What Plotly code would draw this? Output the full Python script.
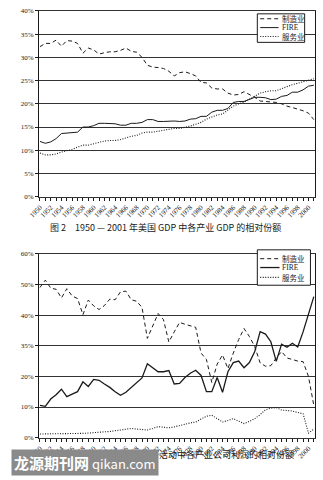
import plotly.graph_objects as go

# Years covered by both panels
years = list(range(1950, 2002))
year_labels = [str(y) for y in range(1950, 2001, 2)]

# Relative shares of GDP by industry (%)
gdp_manufacturing = [
    32.3, 33.0, 33.0, 33.7, 32.4, 33.6, 33.5, 33.0, 30.9, 32.0,
    31.6, 30.7, 31.0, 31.2, 31.2, 31.5, 32.0, 31.3, 31.1, 30.0,
    28.3, 27.9, 27.8, 27.6, 27.0, 26.0, 26.7, 26.9, 26.5, 26.0,
    24.6, 24.5, 23.4, 23.2, 23.2, 22.3, 21.9, 22.0, 22.6, 22.0,
    21.4, 20.6, 20.5, 20.3, 20.3, 20.0, 19.5, 19.2, 18.9, 18.5,
    18.0, 16.6,
]
gdp_fire = [
    11.9, 11.5, 11.8, 12.5, 13.6, 13.7, 13.7, 13.9, 15.0, 15.0,
    15.3, 15.8, 15.8, 15.8, 15.7, 15.4, 15.4, 15.8, 15.8, 16.0,
    16.6, 16.6, 16.2, 16.2, 16.3, 16.3, 16.2, 16.3, 16.7, 16.8,
    17.3, 17.3, 18.2, 18.6, 18.6, 19.0, 20.3, 20.5, 20.5, 21.0,
    21.4, 21.4, 21.3, 20.9, 21.0, 21.6, 21.8, 22.5, 22.5, 23.0,
    23.8, 24.0,
]
gdp_services = [
    9.4, 9.0, 9.0, 9.2, 9.6, 9.9, 10.2, 10.7, 11.1, 11.1,
    11.4, 11.8, 12.0, 12.1, 12.1, 12.3, 12.7, 13.0, 13.2, 13.7,
    13.9, 13.9, 14.1, 14.3, 14.5, 14.7, 14.7, 14.9, 15.2, 15.6,
    16.0, 16.7, 17.1, 17.6, 17.8, 18.6, 19.5, 20.0, 20.4, 21.0,
    21.7, 22.3, 22.6, 22.8, 22.8, 23.3, 23.7, 24.1, 24.4, 24.7,
    25.1, 25.4,
]

# Relative shares of corporate profits by industry (%)
profit_manufacturing = [
    49.0, 51.4, 48.8, 48.4, 45.6, 48.6, 46.2, 45.4, 40.1, 44.9,
    43.0, 41.8, 43.1, 45.2, 45.0, 47.6, 47.8, 45.0, 44.5, 42.5,
    32.4, 36.5, 40.5, 38.5, 31.2, 34.5, 37.6, 37.0, 36.5, 36.0,
    27.6, 25.5, 18.0, 24.0, 27.0, 22.5, 27.6, 32.0, 35.6, 33.0,
    29.7, 24.4, 23.3, 23.5, 26.0, 28.1, 26.0, 25.5, 25.0, 24.8,
    20.0, 10.5,
]
profit_fire = [
    10.5, 10.2, 12.6, 14.0, 15.8, 13.4, 14.2, 15.0, 18.2, 16.7,
    19.0, 18.7, 17.5, 16.4, 15.0, 13.8, 14.8, 16.4, 17.8, 19.5,
    24.1, 22.8, 21.5, 21.5, 21.9, 17.5, 17.7, 19.6, 21.0, 22.0,
    20.3, 15.0, 15.0, 19.6, 14.8, 21.5, 24.5, 25.0, 22.8, 24.5,
    28.1, 34.6, 33.8, 31.3, 24.9, 30.5, 29.5, 30.8, 29.6, 34.5,
    40.0, 46.0,
]
profit_services = [
    1.2, 1.2, 1.3, 1.3, 1.3, 1.3, 1.4, 1.4, 1.4, 1.5,
    1.7, 1.8, 1.9, 2.0, 2.2, 2.5, 2.6, 3.0, 2.8, 2.6,
    2.5, 3.0, 3.6, 3.4, 3.2, 3.5, 4.0, 4.4, 4.8, 5.1,
    6.0, 7.0, 7.3, 6.2, 5.1, 5.6, 6.2, 5.4, 4.6, 5.3,
    6.2, 7.5, 9.1, 9.6, 9.8, 9.0, 8.9, 8.7, 8.2, 7.8,
    1.5, 2.8,
]

top_ticks = [0, 5, 10, 15, 20, 25, 30, 35, 40]
top_ticktext = ["0%", "5%", "10%", "15%", "20%", "25%", "30%", "35%", "40%"]
bottom_ticks = [0, 10, 20, 30, 40, 50, 60]
bottom_ticktext = ["0%", "10%", "20%", "35%", "40%", "50%", "60%"]

series_names = ["制造业", "FIRE", "服务业"]

W, H = 323, 480
CJK = "Noto Sans CJK SC"
SERIF = "Liberation Serif"
INK = "#1a1a1a"
GRID = "#333333"

DASH = "4px,3px"
DOT = "1px,1.5px"
top_styles = [(DASH, 1.0), ("solid", 1.0), (DOT, 1.1)]
bottom_styles = [(DASH, 1.0), ("solid", 1.3), (DOT, 1.1)]


def px_x(p):
    return p / W


def px_y(p):
    return 1 - p / H


fig = go.Figure()


def add_panel(values, xa, ya, styles):
    for name, v, (dash, width) in zip(series_names, values, styles):
        fig.add_trace(go.Scatter(
            x=years, y=v, name=name, mode="lines",
            line=dict(color=INK, width=width, dash=dash),
            xaxis=xa, yaxis=ya, showlegend=False,
        ))


def add_key(box, rows, styles, sample_x):
    """Boxed key: box=(left, top, right, bottom) in pixels, rows = y of each entry."""
    l, t, r, b = box
    fig.add_shape(type="rect", xref="paper", yref="paper",
                  x0=px_x(l), x1=px_x(r), y0=px_y(b), y1=px_y(t),
                  line=dict(color=INK, width=1), fillcolor="white", layer="above")
    for name, yrow, (dash, width) in zip(series_names, rows, styles):
        fig.add_shape(type="line", xref="paper", yref="paper",
                      x0=px_x(sample_x[0]), x1=px_x(sample_x[1]),
                      y0=px_y(yrow), y1=px_y(yrow),
                      line=dict(color=INK, width=width, dash=dash), layer="above")
        fig.add_annotation(text=name, xref="paper", yref="paper",
                           x=px_x(sample_x[1] + 1), y=px_y(yrow),
                           xanchor="left", yanchor="middle", showarrow=False,
                           font=dict(family=CJK if name != "FIRE" else SERIF,
                                     size=7.5, color=INK))


add_panel([gdp_manufacturing, gdp_fire, gdp_services], "x", "y", top_styles)
add_panel([profit_manufacturing, profit_fire, profit_services], "x2", "y2", bottom_styles)

xaxis_common = dict(
    range=[1949.82, 2001.27],
    tickmode="array", tickvals=list(range(1950, 2001, 2)), ticktext=year_labels,
    tickangle=-45, ticks="outside", ticklen=3, tickcolor=INK, tickwidth=1,
    minor=dict(dtick=1, tick0=1950, ticks="outside", ticklen=3, tickcolor=INK, showgrid=False),
    showgrid=False, zeroline=False,
    showline=True, linecolor=GRID, linewidth=1, mirror=True,
    tickfont=dict(family=SERIF, size=7, color=INK),
    domain=[px_x(29), px_x(315)],
)
yaxis_common = dict(
    tickmode="array", ticks="outside", ticklen=3, tickcolor=INK,
    showgrid=True, gridcolor=GRID, gridwidth=1.2, zeroline=False,
    showline=True, linecolor=INK, linewidth=1.2, mirror=True,
    tickfont=dict(family=SERIF, size=7, color=INK),
)

fig.update_layout(
    width=W, height=H,
    margin=dict(l=0, r=0, t=0, b=0),
    paper_bgcolor="white", plot_bgcolor="white",
    showlegend=False,
    xaxis=dict(xaxis_common, anchor="y"),
    yaxis=dict(yaxis_common, range=[0, 40], tickvals=top_ticks, ticktext=top_ticktext,
               domain=[px_y(196), px_y(7)], anchor="x"),
    xaxis2=dict(xaxis_common, anchor="y2"),
    yaxis2=dict(yaxis_common, range=[0, 60], tickvals=bottom_ticks, ticktext=bottom_ticktext,
                domain=[px_y(441), px_y(254)], anchor="x2"),
)

add_key((255, 10, 304, 39), [15, 24, 33], top_styles, (258, 277))
add_key((255, 250, 310, 286), [259, 268, 278], bottom_styles, (258, 278))

fig.add_annotation(
    text="图 2　1950 — 2001 年美国 GDP 中各产业 GDP 的相对份额",
    x=px_x(160), y=px_y(227), xref="paper", yref="paper",
    showarrow=False, font=dict(family=CJK, size=9, color=INK),
)
fig.add_annotation(
    text="图 3　1950—2001 年美国经济活动中各产业公司利润的相对份额",
    x=px_x(161), y=px_y(467), xref="paper", yref="paper",
    showarrow=False, font=dict(family=CJK, size=9, color=INK),
)
fig.add_annotation(
    text='<b><span style="font-size:15px">龙源期刊网</span></b> <span style="font-size:13px">qikan.com</span>',
    x=0, y=0, xref="paper", yref="paper", xanchor="left", yanchor="bottom",
    showarrow=False, bgcolor="#8a8a8a", borderpad=2,
    font=dict(family=CJK, size=13, color="white"),
)

fig.write_html("out.html")
